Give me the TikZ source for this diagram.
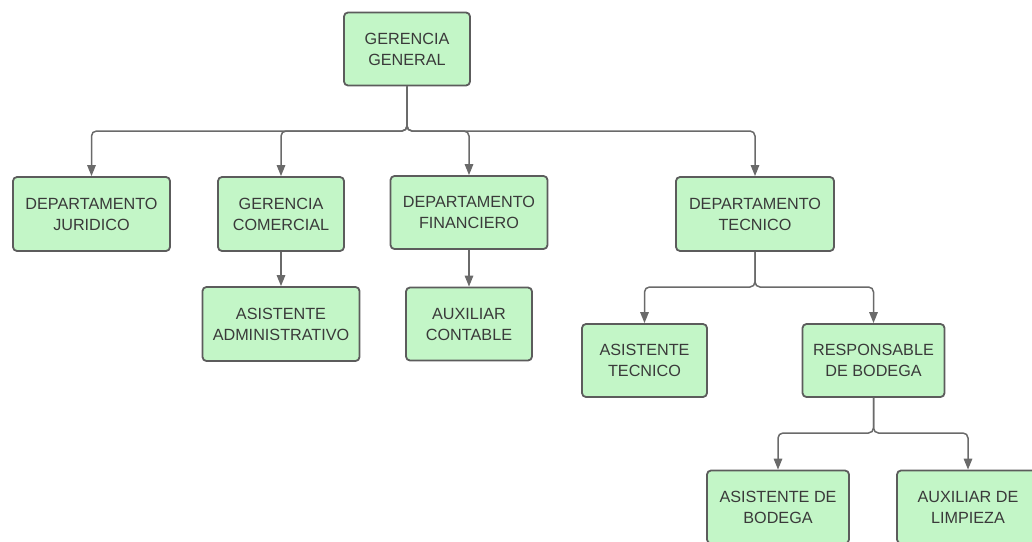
\documentclass[tikz,border=0pt]{standalone}
\usepackage{fontspec}
\setmainfont{Liberation Sans}
\usetikzlibrary{arrows.meta}
\definecolor{boxfill}{HTML}{C3F6C7}
\definecolor{boxborder}{HTML}{5C5C5C}
\definecolor{linecol}{HTML}{6A6A6A}
\definecolor{textcol}{HTML}{3A3A3A}
\tikzset{
  orgbox/.style={draw=boxborder, fill=boxfill, line width=1.8pt, rounded corners=4pt,
    align=center, text=textcol, inner sep=0pt, minimum height=73pt,
    font=\fontsize{16.2}{21}\selectfont},
  conn/.style={draw=linecol, line width=1.5pt, rounded corners=5pt,
    -{Triangle[width=8.5pt,length=11pt]}},
}
\begin{document}
\begin{tikzpicture}[x=1pt,y=-1pt]
\useasboundingbox (0,0) rectangle (1032,541);
\clip (0,0) rectangle (1032,541);
\node[orgbox, minimum width=126pt] (gg) at (407,49) {GERENCIA\\GENERAL};
\node[orgbox, minimum width=157pt, minimum height=74pt] (jur) at (91.5,214) {DEPARTAMENTO\\JURIDICO};
\node[orgbox, minimum width=126pt, minimum height=74pt] (gc) at (281,214) {GERENCIA\\COMERCIAL};
\node[orgbox, minimum width=157pt] (df) at (469,212.5) {DEPARTAMENTO\\FINANCIERO};
\node[orgbox, minimum width=158pt, minimum height=74pt] (dt) at (755,214) {DEPARTAMENTO\\TECNICO};
\node[orgbox, minimum width=157pt, minimum height=74pt] (aa) at (281,324) {ASISTENTE\\ADMINISTRATIVO};
\node[orgbox, minimum width=126pt] (ac) at (469,324) {AUXILIAR\\CONTABLE};
\node[orgbox, minimum width=125pt] (at) at (644.5,360.5) {ASISTENTE\\TECNICO};
\node[orgbox, minimum width=142pt] (rb) at (873.5,360.5) {RESPONSABLE\\DE BODEGA};
\node[orgbox, minimum width=142pt] (ab) at (778,507) {ASISTENTE DE\\BODEGA};
\node[orgbox, minimum width=142pt] (al) at (968,507) {AUXILIAR DE\\LIMPIEZA};
\coordinate (bus1) at (407,131);
\coordinate (bus2) at (755,287);
\coordinate (bus3) at (873.5,433);
\foreach \c in {jur,gc,df,dt}
  \draw[conn] (gg.south) -- (gg.south |- bus1) -| (\c.north);
\draw[conn] (gc.south) -- (gc.south |- aa.north);
\draw[conn] (df.south) -- (df.south |- ac.north);
\foreach \c in {at,rb}
  \draw[conn] (dt.south) -- (dt.south |- bus2) -| (\c.north);
\foreach \c in {ab,al}
  \draw[conn] (rb.south) -- (rb.south |- bus3) -| (\c.north);
\end{tikzpicture}
\end{document}
